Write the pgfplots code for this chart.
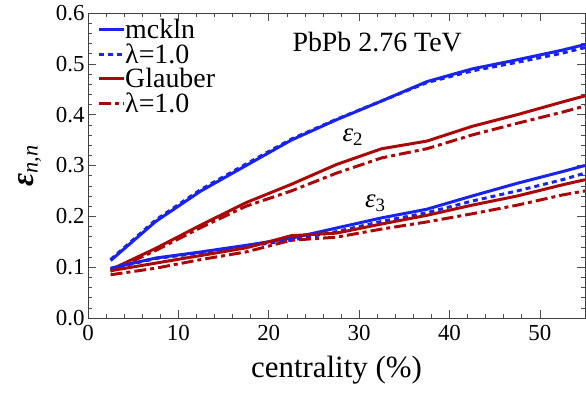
\documentclass[border=0pt]{standalone}
\usepackage{fontspec}
\setmainfont{Liberation Serif}
\usepackage{pgfplots}
\pgfplotsset{compat=1.18}
\definecolor{cblue}{RGB}{25,35,240}
\definecolor{cred}{RGB}{170,8,8}
\begin{document}
\begin{tikzpicture}
\begin{axis}[
  scale only axis, width=497bp, height=305bp,
  xmin=0, xmax=55, ymin=0, ymax=0.6,
  xtick={0,10,20,30,40,50}, ytick={0,0.1,...,0.61},
  minor tick num=4,
  tick align=inside,
  major tick length=8bp, minor tick length=4bp,
  axis line style={black!75, line width=0.8pt},
  every tick/.style={black!70, line width=0.6pt},
  /pgf/number format/assume math mode=true,
  yticklabel style={/pgf/number format/fixed, /pgf/number format/fixed zerofill, /pgf/number format/precision=1},
  tick label style={font=\fontsize{23}{25}\selectfont},
  xticklabel style={yshift=-4bp},
  xlabel={centrality (\%)},
  xlabel style={font=\fontsize{31}{33}\selectfont, yshift=-8bp},
  ylabel={\textbf{\textit{ε}}\textsubscript{\textit{n,n}}},
  ylabel style={font=\fontsize{32}{34}\selectfont, yshift=8bp},
  legend style={draw=none, fill=none, at={(axis cs:1.0,0.588)}, anchor=north west,
    nodes={font=\fontsize{28}{30}\selectfont, inner sep=0pt, outer sep=0pt}, row sep=3.5bp, inner sep=0pt},
  legend cell align=left,
  legend image code/.code={\draw[#1] (0bp,0bp) -- (25bp,0bp);},
  every axis plot/.append style={line width=3pt, line join=round},
]
\addplot[cblue] coordinates {(2.5,0.113)(7.5,0.19)(12.5,0.25)(17.5,0.30)(22.5,0.35)(27.5,0.39)(32.5,0.427)(37.5,0.465)(42.5,0.49)(47.5,0.508)(52.5,0.527)(55,0.538)};
\addlegendentry{mckln}
\addplot[cblue, dash pattern=on 5bp off 4bp] coordinates {(2.5,0.115)(7.5,0.193)(12.5,0.253)(17.5,0.303)(22.5,0.352)(27.5,0.391)(32.5,0.427)(37.5,0.463)(42.5,0.486)(47.5,0.503)(52.5,0.521)(55,0.532)};
\addlegendentry{λ=1.0}
\addplot[cred] coordinates {(2.5,0.095)(7.5,0.137)(12.5,0.183)(17.5,0.227)(22.5,0.263)(27.5,0.302)(32.5,0.333)(37.5,0.348)(42.5,0.377)(47.5,0.40)(52.5,0.425)(55,0.437)};
\addlegendentry{Glauber}
\addplot[cred, dash pattern=on 12bp off 4bp on 4bp off 4bp] coordinates {(2.5,0.092)(7.5,0.133)(12.5,0.178)(17.5,0.22)(22.5,0.25)(27.5,0.285)(32.5,0.315)(37.5,0.333)(42.5,0.36)(47.5,0.383)(52.5,0.405)(55,0.417)};
\addlegendentry{λ=1.0}
\addplot[cblue, forget plot] coordinates {(2.5,0.098)(7.5,0.118)(12.5,0.13)(17.5,0.143)(22.5,0.157)(27.5,0.177)(32.5,0.197)(37.5,0.214)(42.5,0.24)(47.5,0.265)(52.5,0.288)(55,0.30)};
\addplot[cblue, dash pattern=on 5bp off 4bp, forget plot] coordinates {(2.5,0.097)(7.5,0.117)(12.5,0.128)(17.5,0.141)(22.5,0.153)(27.5,0.17)(32.5,0.19)(37.5,0.207)(42.5,0.23)(47.5,0.25)(52.5,0.272)(55,0.285)};
\addplot[cred, forget plot] coordinates {(2.5,0.093)(7.5,0.108)(12.5,0.123)(17.5,0.138)(22.5,0.162)(27.5,0.167)(32.5,0.185)(37.5,0.202)(42.5,0.222)(47.5,0.24)(52.5,0.262)(55,0.272)};
\addplot[cred, dash pattern=on 12bp off 4bp on 4bp off 4bp, forget plot] coordinates {(2.5,0.085)(7.5,0.098)(12.5,0.115)(17.5,0.13)(22.5,0.153)(27.5,0.159)(32.5,0.175)(37.5,0.189)(42.5,0.205)(47.5,0.222)(52.5,0.242)(55,0.25)};
\node[font=\fontsize{28}{30}\selectfont] at (axis cs:32,0.543) {PbPb 2.76 TeV};
\node[font=\fontsize{27}{29}\selectfont] at (axis cs:29.3,0.355) {\textit{ε}\textsubscript{2}};
\node[font=\fontsize{27}{29}\selectfont] at (axis cs:31.8,0.225) {\textit{ε}\textsubscript{3}};
\end{axis}
\pgfresetboundingbox
\path (current axis.south west) +(-88bp,-88bp) (current axis.north east) +(1bp,13bp);
\end{tikzpicture}
\end{document}
